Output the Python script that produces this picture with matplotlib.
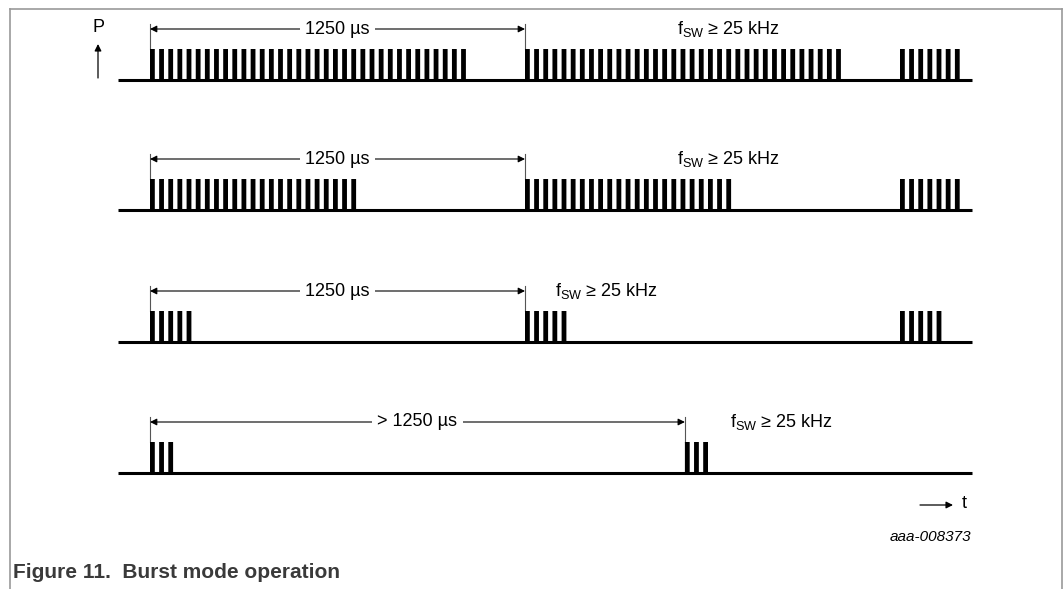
import matplotlib
matplotlib.use('Agg')
import matplotlib.pyplot as plt
from matplotlib.lines import Line2D

plt.rcParams['font.family'] = ['Liberation Sans', 'DejaVu Sans']

# ---------------- data ----------------
burst_starts_us = [[0, 1250, 2500], [0, 1250, 2500], [0, 1250, 2500], [0, 1783]]
pulses_per_burst = [[35, 35, 7], [23, 23, 7], [5, 5, 5], [3, 3]]
pulse_period_us = 30.5
pulse_width_us = 16
interval_end_us = [1250, 1250, 1250, 1783]
interval_labels = ['1250 µs', '1250 µs', '1250 µs', '> 1250 µs']
fsw_label = 'f$_{\\mathregular{SW}}$ ≥ 25 kHz'
fsw_x_us = [1757, 1757, 1350, 1933]
caption = 'Figure 11.  Burst mode operation'
code_label = 'aaa-008373'

# ---------------- layout ----------------
W, H = 1064, 589
def px2t(px):
    return (px - 150) * 10.0 / 3.0

row_base = [80, 210, 342, 473]
pulse_h = 31
arrow_dy = 51

fig = plt.figure(figsize=(W / 100, H / 100), dpi=100)
ax = fig.add_axes([0, 0, 1, 1])
ax.set_xlim(px2t(0), px2t(W))
ax.set_ylim(H, 0)
ax.axis('off')

for r, yb in enumerate(row_base):
    # baseline
    ax.plot([px2t(118), px2t(972)], [yb, yb], color='black', lw=2.2,
            solid_capstyle='butt', zorder=3)
    # pulses
    for start, n in zip(burst_starts_us[r], pulses_per_burst[r]):
        xs = [start + k * pulse_period_us for k in range(n)]
        bars = ax.bar(xs, [-pulse_h] * n, width=pulse_width_us, bottom=yb,
                      align='edge', color='black', linewidth=0, zorder=3)
        for b in bars:
            b.set_snap(False)
    # dimension arrow
    ya = yb - arrow_dy
    end = interval_end_us[r]
    for xt in (0, end):
        ax.plot([xt, xt], [ya - 5, yb - pulse_h], color='#555555', lw=0.8, zorder=2)
    ax.annotate('', xy=(end, ya), xytext=(0, ya),
                arrowprops=dict(arrowstyle='<|-|>', lw=0.8, color='black',
                                shrinkA=0, shrinkB=0, mutation_scale=10),
                zorder=2)
    ax.text(end / 2, ya, interval_labels[r], ha='center', va='center',
            fontsize=13, zorder=4,
            bbox=dict(boxstyle='square,pad=0.3', fc='white', ec='none'))
    ax.text(fsw_x_us[r], ya, fsw_label, ha='left', va='center', fontsize=13)

# P axis arrow
ax.annotate('', xy=(px2t(98), 44), xytext=(px2t(98), 78),
            arrowprops=dict(arrowstyle='-|>', lw=0.9, color='black',
                            shrinkA=0, shrinkB=0, mutation_scale=10))
ax.text(px2t(98), 27, 'P', ha='center', va='center', fontsize=13)

# t axis arrow
ax.annotate('', xy=(px2t(953), 505), xytext=(px2t(920), 505),
            arrowprops=dict(arrowstyle='-|>', lw=0.9, color='black',
                            shrinkA=0, shrinkB=0, mutation_scale=10))
ax.text(px2t(962), 504, 't', ha='left', va='center', fontsize=13)

ax.text(px2t(971), 537, code_label, ha='right', va='center', fontsize=11,
        style='italic')

# frame
fc = '#999999'
ax.add_line(Line2D([px2t(10), px2t(1062)], [9, 9], color=fc, lw=1.2))
ax.add_line(Line2D([px2t(10), px2t(10)], [9, H], color=fc, lw=1.2))
ax.add_line(Line2D([px2t(1062), px2t(1062)], [9, H], color=fc, lw=1.2))

ax.text(px2t(13), 572, caption, ha='left', va='center', fontsize=15,
        fontweight='bold', color='#3a3a3a')

fig.savefig('out.png', dpi=100)
